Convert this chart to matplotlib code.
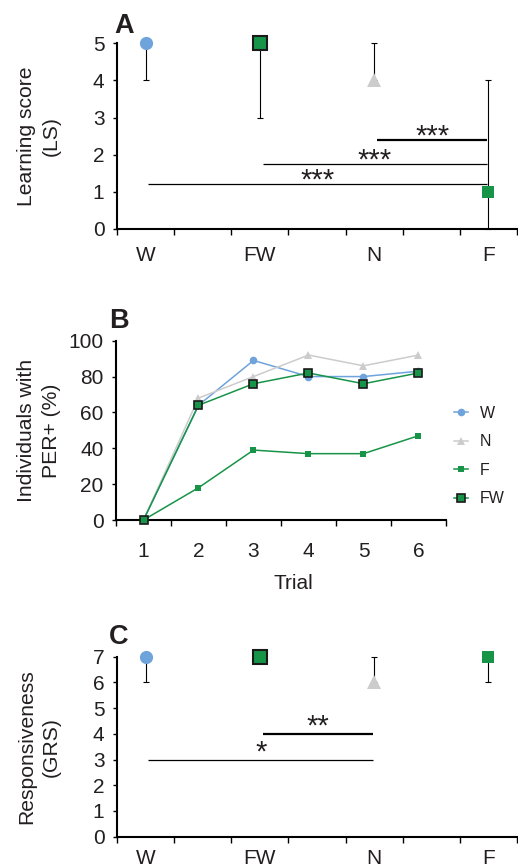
import matplotlib
matplotlib.use('Agg')
import matplotlib.pyplot as plt

plt.rcParams['font.family'] = ['Liberation Sans', 'DejaVu Sans']

# ---------------- data ----------------
groups = ['W', 'FW', 'N', 'F']

# Panel A: learning score (median with range)
ls_median = [5, 5, 4, 1]
ls_low = [4, 3, 4, 0]
ls_high = [5, 5, 5, 4]

# Panel B: % individuals with PER+
trials = ['1', '2', '3', '4', '5', '6']
per_W = [0, 64, 89, 80, 80, 83]
per_N = [0, 68, 80, 92, 86, 92]
per_F = [0, 18, 39, 37, 37, 47]
per_FW = [0, 64, 76, 82, 76, 82]

# Panel C: responsiveness (GRS)
grs_median = [7, 7, 6, 7]
grs_low = [6, 7, 6, 6]
grs_high = [7, 7, 7, 7]

# significance comparisons (group a, group b, bar height, label)
sig_A = [('W', 'F', 1.2, '***'), ('FW', 'F', 1.75, '***'), ('N', 'F', 2.4, '***')]
sig_C = [('FW', 'N', 4, '**'), ('W', 'N', 3, '*')]

# ---------------- styles ----------------
C_W = '#6fa3dc'
C_N = '#cccccc'
C_F = '#179447'
EDGE = '#1a1a1a'
TXT = '#231f20'

TICK_FS = 15
LABEL_FS = 15.2
STAR_FS = 21

styles = {
    'W': dict(marker='o', color=C_W, mfc=C_W, mec=C_W, mew=0),
    'FW': dict(marker='s', color=C_F, mfc=C_F, mec=EDGE, mew=1.5),
    'N': dict(marker='^', color=C_N, mfc=C_N, mec=C_N, mew=0),
    'F': dict(marker='s', color=C_F, mfc=C_F, mec=C_F, mew=0),
}
big_ms = {'W': 9.5, 'FW': 9.5, 'N': 9.5, 'F': 9}
small_ms = {'W': 5.5, 'FW': 6, 'N': 5.5, 'F': 5}

W_PX, H_PX = 518, 865
fig = plt.figure(figsize=(W_PX / 100, H_PX / 100), dpi=100)


def axes_px(left, top, right, bottom):
    return fig.add_axes([left / W_PX, 1 - bottom / H_PX,
                         (right - left) / W_PX, (bottom - top) / H_PX])


def style_axes(ax, ylim, yticks, ncols, xpad):
    for s in ('top', 'right'):
        ax.spines[s].set_visible(False)
    for s in ('left', 'bottom'):
        ax.spines[s].set_linewidth(1.5)
        ax.spines[s].set_color('black')
    ax.set_ylim(*ylim)
    ax.set_xlim(0, ncols)
    ax.set_yticks(yticks)
    ax.set_xticks(range(ncols + 1))
    ax.set_xticklabels([])
    ax.tick_params(axis='y', length=3, width=1, pad=6, labelsize=TICK_FS,
                   labelcolor=TXT, direction='out')
    ax.tick_params(axis='x', which='major', length=4.3, width=1, direction='out')
    ax.tick_params(axis='x', which='minor', length=0, pad=xpad, labelsize=TICK_FS,
                   labelcolor=TXT)


def dot_panel(ax, med, low, high, sigs, sig_lw, star_off):
    pos = [0.5, 2.5, 4.5, 6.5]
    gpos = dict(zip(groups, pos))
    ax.set_xticks(pos, minor=True)
    ax.set_xticklabels(groups, minor=True)
    for g, x, m, lo, hi in zip(groups, pos, med, low, high):
        ax.errorbar([x], [m], yerr=[[m - lo], [hi - m]], fmt='none',
                    ecolor='black', elinewidth=0.8, capsize=2.2, capthick=0.8,
                    clip_on=False, zorder=2)
        st = styles[g]
        ax.plot([x], [m], linestyle='none', marker=st['marker'], ms=big_ms[g],
                mfc=st['mfc'], mec=st['mec'], mew=st['mew'],
                clip_on=False, zorder=3)
    for (a, b, y, lab), lw in zip(sigs, sig_lw):
        x0, x1 = gpos[a] + 0.05, gpos[b] - 0.02
        ax.plot([x0, x1], [y, y], color='black', lw=lw, solid_capstyle='butt')
        ax.annotate(lab, xy=((x0 + x1) / 2, y),
                    xytext=(0, star_off - 0.58 * STAR_FS),
                    textcoords='offset points', ha='center', va='baseline',
                    fontsize=STAR_FS, color=TXT)


def ylabel(ax, text, xpx, leftpx, widthpx):
    ax.set_ylabel(text, fontsize=LABEL_FS, color=TXT, linespacing=1.38,
                  va='center')
    ax.yaxis.set_label_coords((xpx - leftpx) / widthpx, 0.5)


# ---------------- Panel A ----------------
axA = axes_px(117, 43.3, 517, 229)
style_axes(axA, (0, 5), range(0, 6), 7, 12)
dot_panel(axA, ls_median, ls_low, ls_high, sig_A, [0.9, 0.9, 1.6], 9.1)
ylabel(axA, 'Learning score\n(LS)', 39, 117, 400)

# ---------------- Panel B ----------------
axB = axes_px(116, 340.7, 446, 520)
style_axes(axB, (0, 100), range(0, 101, 20), 6, 15.5)
xb = [i + 0.5 for i in range(len(trials))]
axB.set_xticks(xb, minor=True)
axB.set_xticklabels(trials, minor=True)
series = [('W', per_W), ('N', per_N), ('F', per_F), ('FW', per_FW)]
for z, (g, vals) in enumerate(series):
    st = styles[g]
    axB.plot(xb, vals, color=st['color'], lw=1.1, marker=st['marker'],
             ms=small_ms[g], mfc=st['mfc'], mec=st['mec'],
             mew=(1.2 if g == 'FW' else 0), label=g, clip_on=False, zorder=3 + z)
axB.set_xlabel('Trial', fontsize=TICK_FS, color=TXT, va='top')
axB.xaxis.set_label_coords((293 - 116) / 330, -(574 - 520) / 179.3)
ylabel(axB, 'Individuals with\nPER+ (%)', 39, 116, 330)
axB.legend(loc='upper left', bbox_to_anchor=(454 / W_PX, 1 - 406 / H_PX),
           bbox_transform=fig.transFigure, frameon=False, fontsize=11.5,
           handlelength=0.9, handletextpad=0.7, labelspacing=0.84,
           borderpad=0, borderaxespad=0, numpoints=1, labelcolor=TXT)

# ---------------- Panel C ----------------
axC = axes_px(117, 656.7, 517, 836.7)
style_axes(axC, (0, 7), range(0, 8), 7, 9)
dot_panel(axC, grs_median, grs_low, grs_high, sig_C, [1.6, 0.9], 11.8)
ylabel(axC, 'Responsiveness\n(GRS)', 39, 117, 400)

# ---------------- panel letters ----------------
for lab, x, y in [('A', 114, 33), ('B', 109, 328), ('C', 109, 644)]:
    fig.text(x / W_PX, 1 - y / H_PX, lab, fontsize=19.5, fontweight='bold',
             ha='left', va='baseline', color=TXT)

fig.savefig('out.png', dpi=100)
